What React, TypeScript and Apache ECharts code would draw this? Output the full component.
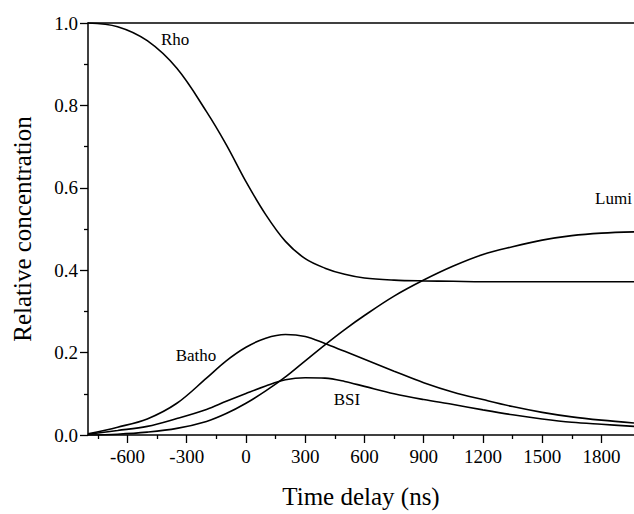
import React, { useEffect, useRef } from "react";
import * as echarts from "echarts";

const times = [-800, -650, -500, -350, -200, -100, 0, 100, 200, 300, 400, 500, 600, 750, 900, 1050, 1200, 1350, 1500, 1650, 1800, 1965];
const rho = [1.0, 0.991, 0.957, 0.89, 0.785, 0.705, 0.615, 0.535, 0.47, 0.428, 0.405, 0.39, 0.381, 0.376, 0.374, 0.373, 0.372, 0.372, 0.372, 0.372, 0.372, 0.372];
const lumi = [0.0, 0.002, 0.007, 0.016, 0.033, 0.052, 0.077, 0.107, 0.141, 0.18, 0.219, 0.256, 0.29, 0.337, 0.376, 0.41, 0.438, 0.457, 0.473, 0.484, 0.49, 0.493];
const batho = [0.003, 0.019, 0.039, 0.077, 0.138, 0.18, 0.213, 0.235, 0.244, 0.239, 0.222, 0.203, 0.184, 0.155, 0.127, 0.104, 0.086, 0.069, 0.055, 0.044, 0.036, 0.029];
const bsi = [0.002, 0.011, 0.021, 0.04, 0.062, 0.082, 0.101, 0.119, 0.134, 0.139, 0.138, 0.13, 0.118, 0.1, 0.086, 0.074, 0.061, 0.049, 0.039, 0.031, 0.026, 0.021];

const xMajorTicks = [-600, -300, 0, 300, 600, 900, 1200, 1500, 1800];
const xMinorTicks = [-750, -450, -150, 150, 450, 750, 1050, 1350, 1650];

const seriesNames = ["Rho", "Lumi", "Batho", "BSI"];
const labelPos: [number, number][] = [
  [-359, 0.959],
  [1861, 0.574],
  [-253, 0.194],
  [511, 0.086],
];

const FONT = "Liberation Serif";

function buildOption() {
  const all = [rho, lumi, batho, bsi];
  const xCommon = {
    type: "value" as const,
    min: -800,
    max: 1965,
    splitLine: { show: false },
  };
  return {
    animation: false,
    textStyle: { fontFamily: FONT, color: "#000" },
    grid: { left: 88, right: 0, top: 23, bottom: 76 },
    xAxis: [
      {
        ...xCommon,
        position: "bottom",
        name: "Time delay (ns)",
        nameLocation: "middle",
        nameGap: 49,
        nameTextStyle: { fontFamily: FONT, fontSize: 25, color: "#000" },
        axisLine: { show: true, onZero: false, lineStyle: { color: "#000", width: 1.5 } },
        axisTick: { show: true, inside: false, length: 8, customValues: xMajorTicks, lineStyle: { color: "#000", width: 1.3 } },
        axisLabel: {
          show: true,
          customValues: xMajorTicks,
          margin: 12,
          fontFamily: FONT,
          fontSize: 19,
          color: "#000",
          formatter: (v: number) => String(v),
        },
      },
      {
        ...xCommon,
        position: "bottom",
        axisLine: { show: false },
        axisTick: { show: true, inside: false, length: 4, customValues: xMinorTicks, lineStyle: { color: "#000", width: 1.3 } },
        axisLabel: { show: false },
      },
      {
        ...xCommon,
        position: "top",
        axisLine: { show: true, onZero: false, lineStyle: { color: "#000", width: 1.5 } },
        axisTick: { show: false },
        axisLabel: { show: false },
      },
    ],
    yAxis: {
      type: "value",
      min: 0,
      max: 1,
      interval: 0.2,
      name: "Relative concentration",
      nameLocation: "middle",
      nameGap: 53,
      nameTextStyle: { fontFamily: FONT, fontSize: 25, color: "#000" },
      splitLine: { show: false },
      axisLine: { show: true, onZero: false, lineStyle: { color: "#000", width: 1.5 } },
      axisTick: { show: true, inside: false, length: 8, lineStyle: { color: "#000", width: 1.3 } },
      minorTick: { show: true, splitNumber: 2, length: 4, lineStyle: { color: "#000", width: 1.3 } },
      minorSplitLine: { show: false },
      axisLabel: {
        margin: 10,
        fontFamily: FONT,
        fontSize: 19,
        color: "#000",
        formatter: (v: number) => v.toFixed(1),
      },
    },
    series: all.map((vals, i) => ({
      name: seriesNames[i],
      type: "line",
      xAxisIndex: 0,
      data: times.map((t, j) => [t, vals[j]]),
      smooth: 0.35,
      showSymbol: false,
      symbol: "none",
      lineStyle: { color: "#000", width: 1.6 },
      markPoint: {
        symbol: "circle",
        symbolSize: 0,
        data: [
          {
            coord: labelPos[i],
            label: {
              show: true,
              position: "inside",
              formatter: seriesNames[i],
              fontFamily: FONT,
              fontSize: 17,
              color: "#000",
            },
          },
        ],
      },
    })),
  };
}

export default function App() {
  const ref = useRef<HTMLDivElement>(null);
  useEffect(() => {
    if (!ref.current) return;
    document.body.style.margin = "0";
    const chart = echarts.init(ref.current, undefined, { renderer: "svg" });
    chart.setOption(buildOption() as any);
    return () => {
      chart.dispose();
    };
  }, []);
  return <div ref={ref} style={{ width: 634, height: 514 }} />;
}
